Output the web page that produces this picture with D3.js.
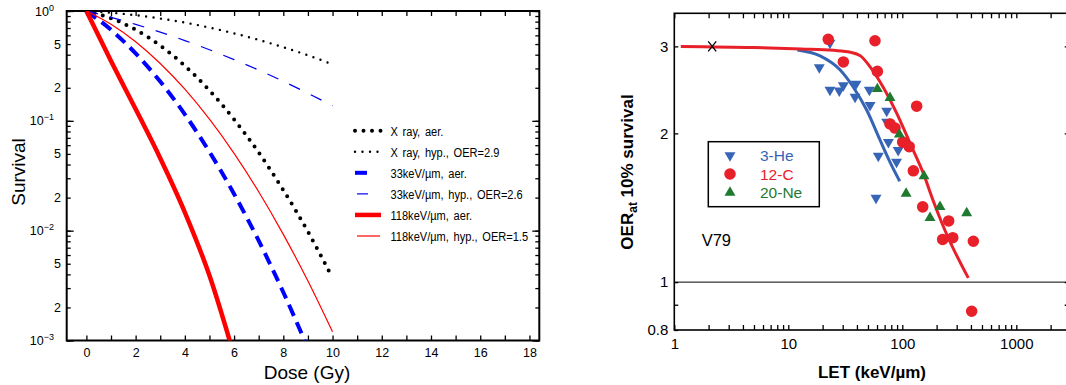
<!DOCTYPE html>
<html>
<head>
<meta charset="utf-8">
<script src="https://d3js.org/d3.v7.min.js"></script>
<style>
body { margin: 0; background: #fff; }
</style>
</head>
<body>
<div id="chart"></div>
<script>
// ---- left panel: survival curves ----
var doses = [0, 1, 2, 3, 4, 5, 6, 7, 8, 9, 10];
var xrayAer = [1, 0.86, 0.675, 0.484, 0.317, 0.189, 0.103, 0.0515, 0.0234, 0.0098, 0.0037];
var xrayHyp = [1, 0.965, 0.916, 0.854, 0.784, 0.707, 0.626, 0.546, 0.468, 0.395, 0.327];
var let33Aer = [1, 0.674, 0.411, 0.228, 0.1145, 0.0522, 0.0216, 0.0081, 0.00275, 0.00085];
var let33Hyp = [1, 0.875, 0.755, 0.642, 0.538, 0.444, 0.361, 0.290, 0.229, 0.178, 0.137];
var let118Aer = [1, 0.35, 0.128, 0.0457, 0.0147, 0.0039, 0.00073];
var let118Hyp = [1, 0.757, 0.525, 0.333, 0.194, 0.1034, 0.0505, 0.0226, 0.00925, 0.00348, 0.0012];

var legendLabels = ["X ray, aer.", "X ray, hyp., OER=2.9", "33keV/\u00b5m, aer.",
                    "33keV/\u00b5m, hyp., OER=2.6", "118keV/\u00b5m, aer.", "118keV/\u00b5m, hyp., OER=1.5"];

var doseTicks = d3.range(0, 19);
var survTickVals = [1, 0.5, 0.2, 0.1, 0.05, 0.02, 0.01, 0.005, 0.002, 0.001];
var survTickText = ["10^0", "5", "2", "10^-1", "5", "2", "10^-2", "5", "2", "10^-3"];

// ---- right panel: OER vs LET ----
var redCurve = [[1.14, 3.0], [5, 2.985], [13, 2.965], [25, 2.945], [35, 2.92], [43, 2.87], [52, 2.73],
                [68, 2.48], [89, 2.2], [117, 1.91], [153, 1.66], [187, 1.46], [245, 1.25], [379, 1.02]];
var blueCurve = [[12, 2.95], [19, 2.87], [28.4, 2.69], [37.2, 2.48], [48.7, 2.23], [63.7, 1.94],
                 [78, 1.75], [95, 1.6]];
var he3 = [[23.2, 3.05], [18.7, 2.72], [23.2, 2.45], [28, 2.44], [30.4, 2.5], [39.3, 2.52], [38.5, 2.37],
           [51.4, 2.45], [52.1, 2.28], [73, 2.22], [73, 2.11], [75.5, 1.92], [92, 1.85], [61.6, 1.8],
           [89, 1.75], [58.8, 1.48]];
var c12 = [[22.4, 3.1], [57.6, 3.08], [30.4, 2.79], [60.4, 2.67], [133.7, 2.27], [78, 2.09], [86.3, 2.05],
           [100.8, 1.92], [115, 1.88], [125, 1.68], [151, 1.42], [255, 1.33], [226, 1.22], [277, 1.23],
           [420, 1.21], [406, 0.873]];
var ne20 = [[60.4, 2.46], [78, 2.36], [94.2, 1.99], [155, 1.64], [108, 1.51], [214, 1.42], [175, 1.35],
            [367, 1.38]];
var xrayPoint = [[2.15, 3.0]];
var letTickLabels = [1, 10, 100, 1000];
var oerTickLabels = [3, 2, 1, 0.8];

var svg = d3.select("#chart").append("svg")
    .attr("width", 1066)
    .attr("height", 385)
    .style("background", "#fff");

// ===== left panel =====
var xL = d3.scaleLinear().domain([-0.8, 18.4]).range([66.7, 539.3]);
var yL = d3.scaleLog().domain([1e-3, 1]).range([340.5, 11]);

var minorSurv = [];
[-3, -2, -1].forEach(function(e) {
  for (var m = 1; m < 10; m++) minorSurv.push(m * Math.pow(10, e));
});
minorSurv.push(1);
var majorSurv = [1e-3, 1e-2, 1e-1, 1];

var left = svg.append("g");

function clean(g, size) {
  g.select(".domain").remove();
  g.selectAll("line").attr("stroke", "#000").attr("stroke-width", 1.3);
  g.attr("font-family", "Liberation Sans, Arial, sans-serif").attr("font-size", size);
}

left.append("g").attr("transform", "translate(0,340.5)")
    .call(d3.axisBottom(xL).tickValues(doseTicks).tickSize(-5).tickPadding(8)
      .tickFormat(function(d) { return d % 2 ? "" : d; }))
    .call(clean, 12.5);
left.append("g").attr("transform", "translate(0,11)")
    .call(d3.axisTop(xL).tickValues(doseTicks).tickSize(-5).tickFormat(""))
    .call(clean, 12);
[[66.7, d3.axisLeft], [539.3, d3.axisRight]].forEach(function(a) {
  left.append("g").attr("transform", "translate(" + a[0] + ",0)")
      .call(a[1](yL).tickValues(minorSurv).tickSize(-4).tickFormat(""))
      .call(clean, 12);
  left.append("g").attr("transform", "translate(" + a[0] + ",0)")
      .call(a[1](yL).tickValues(majorSurv).tickSize(-7).tickFormat(""))
      .call(clean, 12);
});

var survLab = left.append("g")
    .attr("font-family", "Liberation Sans, Arial, sans-serif")
    .attr("font-size", 12.5)
    .attr("text-anchor", "end");
survTickVals.forEach(function(v, i) {
  var parts = survTickText[i].split("^");
  var t = survLab.append("text").attr("x", 61).attr("y", yL(v) + 4.5);
  if (parts.length > 1) {
    t.attr("x", 54);
    t.append("tspan").text(parts[0]);
    t.append("tspan").attr("dy", -5).attr("font-size", 9).text(parts[1].replace("-", "\u2212"));
  } else {
    t.text(parts[0]);
  }
});

left.append("rect")
    .attr("x", 66.7).attr("y", 11)
    .attr("width", 539.3 - 66.7).attr("height", 340.5 - 11)
    .attr("fill", "none").attr("stroke", "#000").attr("stroke-width", 2);

svg.append("clipPath").attr("id", "clipL").append("rect")
    .attr("x", 66.7).attr("y", 11).attr("width", 539.3 - 66.7).attr("height", 340.5 - 11);

var survLine = d3.line()
    .x(function(d, i) { return xL(doses[i]); })
    .y(function(d) { return yL(d); })
    .curve(d3.curveMonotoneX);

var survSeries = [
  { values: xrayAer, color: "#000", width: 4, dash: "0 8.5", cap: "round" },
  { values: xrayHyp, color: "#000", width: 2.4, dash: "0 7.5", cap: "round" },
  { values: let33Aer, color: "#0000ff", width: 4, dash: "12 7", cap: "butt" },
  { values: let33Hyp, color: "#0000f0", width: 1.2, dash: "12 12", cap: "butt" },
  { values: let118Aer, color: "#ff0000", width: 4.5, dash: null, cap: "butt" },
  { values: let118Hyp, color: "#ff0000", width: 1.2, dash: null, cap: "butt" }
];

left.append("g").attr("clip-path", "url(#clipL)")
  .selectAll("path")
  .data(survSeries)
  .enter().append("path")
    .attr("d", function(s) { return survLine(s.values); })
    .attr("fill", "none")
    .attr("stroke", function(s) { return s.color; })
    .attr("stroke-width", function(s) { return s.width; })
    .attr("stroke-dasharray", function(s) { return s.dash; })
    .attr("stroke-linecap", function(s) { return s.cap; });

// legend
var legSample = [[355, 381], [355, 381], [355, 368], [357, 368], [355, 381], [357, 380]];
var legY = d3.scaleLinear().domain([0, 5]).range([130.7, 236]);
var legL = left.append("g");
survSeries.forEach(function(s, i) {
  legL.append("line")
      .attr("x1", legSample[i][0]).attr("x2", legSample[i][1])
      .attr("y1", legY(i)).attr("y2", legY(i))
      .attr("stroke", s.color)
      .attr("stroke-width", s.width)
      .attr("stroke-dasharray", s.dash)
      .attr("stroke-linecap", s.cap);
  legL.append("text")
      .attr("transform", "translate(390.5," + (legY(i) + 4.8) + ") scale(0.82,1)")
      .attr("font-family", "Liberation Sans, Arial, sans-serif")
      .attr("font-size", 13.5)
      .attr("word-spacing", 2)
      .text(legendLabels[i]);
});

left.append("text")
    .attr("transform", "translate(25,172) rotate(-90)")
    .attr("text-anchor", "middle")
    .attr("font-family", "Liberation Sans, Arial, sans-serif")
    .attr("font-size", 19)
    .text("Survival");
left.append("text")
    .attr("x", 307).attr("y", 379)
    .attr("text-anchor", "middle")
    .attr("font-family", "Liberation Sans, Arial, sans-serif")
    .attr("font-size", 19)
    .text("Dose (Gy)");

// ===== right panel =====
var xR = d3.scaleLog().domain([1, 3000]).range([674.3, 1070.7]);
var yR = d3.scaleLog().domain([0.8, 3.5]).range([330, 13.3]);

var letTicks = [];
[0, 1, 2, 3].forEach(function(e) {
  for (var m = 1; m < 10; m++) {
    var v = m * Math.pow(10, e);
    if (v <= 3000) letTicks.push(v);
  }
});

var right = svg.append("g");

right.append("line")
    .attr("x1", 674.3).attr("x2", 1070.7)
    .attr("y1", yR(1)).attr("y2", yR(1))
    .attr("stroke", "#000").attr("stroke-width", 1);

right.append("g").attr("transform", "translate(0,330)")
    .call(d3.axisBottom(xR).tickValues(letTicks).tickSize(-5).tickPadding(8)
      .tickFormat(function(d) { return letTickLabels.indexOf(d) >= 0 ? d : ""; }))
    .call(clean, 15);
right.append("g").attr("transform", "translate(0,13.3)")
    .call(d3.axisTop(xR).tickValues(letTicks).tickSize(-5).tickFormat(""))
    .call(clean, 15);
right.append("g").attr("transform", "translate(674.3,0)")
    .call(d3.axisLeft(yR).tickValues([0.8, 0.9, 1, 2, 3]).tickSize(-4).tickPadding(6)
      .tickFormat(function(d) { return oerTickLabels.indexOf(d) >= 0 ? d : ""; }))
    .call(clean, 15);
right.append("g").attr("transform", "translate(1070.7,0)")
    .call(d3.axisRight(yR).tickValues([0.9, 1, 2, 3]).tickSize(-6).tickFormat(""))
    .call(clean, 15);

right.append("rect")
    .attr("x", 674.3).attr("y", 13.3)
    .attr("width", 1070.7 - 674.3).attr("height", 330 - 13.3)
    .attr("fill", "none").attr("stroke", "#000").attr("stroke-width", 1.6);

var blue = "#3765b5", red = "#e8202a", green = "#1f7a30";

var oerLine = d3.line()
    .x(function(d) { return xR(d[0]); })
    .y(function(d) { return yR(d[1]); })
    .curve(d3.curveMonotoneX);

right.append("path").attr("d", oerLine(blueCurve))
    .attr("fill", "none").attr("stroke", blue).attr("stroke-width", 3);
right.append("path").attr("d", oerLine(redCurve))
    .attr("fill", "none").attr("stroke", red).attr("stroke-width", 3);

var triSym = d3.symbol().type(d3.symbolTriangle).size(52);
var cirSym = d3.symbol().type(d3.symbolCircle).size(105);

right.append("g").selectAll("path").data(he3).enter().append("path")
    .attr("d", triSym)
    .attr("transform", function(d) { return "translate(" + xR(d[0]) + "," + yR(d[1]) + ") rotate(180)"; })
    .attr("fill", blue);
right.append("g").selectAll("path").data(c12).enter().append("path")
    .attr("d", cirSym)
    .attr("transform", function(d) { return "translate(" + xR(d[0]) + "," + yR(d[1]) + ")"; })
    .attr("fill", red);
right.append("g").selectAll("path").data(ne20).enter().append("path")
    .attr("d", triSym)
    .attr("transform", function(d) { return "translate(" + xR(d[0]) + "," + yR(d[1]) + ")"; })
    .attr("fill", green);

right.append("g").selectAll("path").data(xrayPoint).enter().append("path")
    .attr("d", "M-4,-5L4,5M-4,5L4,-5")
    .attr("transform", function(d) { return "translate(" + xR(d[0]) + "," + yR(d[1]) + ")"; })
    .attr("stroke", "#000").attr("stroke-width", 1.3).attr("fill", "none");

// legend box
var legR = right.append("g")
    .attr("font-family", "Liberation Sans, Arial, sans-serif")
    .attr("font-size", 15.5);
legR.append("rect")
    .attr("x", 708.3).attr("y", 141.7).attr("width", 111).attr("height", 65)
    .attr("fill", "#fff").attr("stroke", "#000").attr("stroke-width", 1.5);
var legItems = [["3-He", blue, triSym, 180], ["12-C", red, cirSym, 0], ["20-Ne", green, triSym, 0]];
var legRY = d3.scaleLinear().domain([0, 2]).range([155.5, 192.5]);
legItems.forEach(function(it, i) {
  legR.append("path").attr("d", it[2])
      .attr("transform", "translate(730," + legRY(i) + ") rotate(" + it[3] + ")")
      .attr("fill", it[1]);
  legR.append("text")
      .attr("x", 760).attr("y", legRY(i) + 5.5)
      .attr("fill", it[1])
      .text(it[0]);
});

right.append("text")
    .attr("x", 701.7).attr("y", 246)
    .attr("font-family", "Liberation Sans, Arial, sans-serif")
    .attr("font-size", 16.5)
    .text("V79");

var yTitle = right.append("text")
    .attr("transform", "translate(633,172) rotate(-90)")
    .attr("text-anchor", "middle")
    .attr("font-family", "Liberation Sans, Arial, sans-serif")
    .attr("font-weight", "bold")
    .attr("font-size", 17);
yTitle.append("tspan").text("OER");
yTitle.append("tspan").attr("font-size", 12).attr("dy", 4).text("at");
yTitle.append("tspan").attr("dy", -4).text(" 10% survival");

right.append("text")
    .attr("x", 872).attr("y", 378)
    .attr("text-anchor", "middle")
    .attr("font-family", "Liberation Sans, Arial, sans-serif")
    .attr("font-weight", "bold")
    .attr("font-size", 17)
    .text("LET (keV/\u00b5m)");
</script>
</body>
</html>
